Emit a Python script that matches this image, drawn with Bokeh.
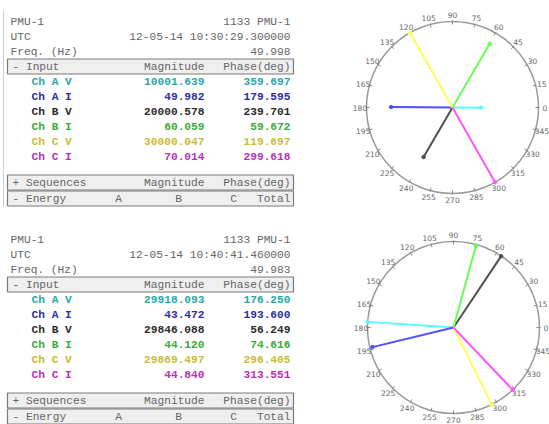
import numpy as np
from bokeh.plotting import figure
from bokeh.models import Range1d, ColumnDataSource
from bokeh.core.properties import value
from bokeh.embed import file_html
from bokeh.resources import INLINE

# ---- phasor snapshot data -------------------------------------------------
device = "PMU-1"
device_id = "1133 PMU-1"
channels = ["Ch A V", "Ch A I", "Ch B V", "Ch B I", "Ch C V", "Ch C I"]
is_voltage = [True, False, True, False, True, False]

utc_1 = "12-05-14 10:30:29.300000"
freq_1 = 49.998
mag_1 = [10001.639, 49.982, 20000.578, 60.059, 30000.047, 70.014]
phase_1 = [359.697, 179.595, 239.701, 59.672, 119.697, 299.618]

utc_2 = "12-05-14 10:40:41.460000"
freq_2 = 49.983
mag_2 = [29918.093, 43.472, 29846.088, 44.120, 29869.497, 44.840]
phase_2 = [176.250, 193.600, 56.249, 74.616, 296.405, 313.551]

angle_ticks = list(range(0, 360, 15))
energy_cols = ["A", "B", "C", "Total"]

# ---- styling ---------------------------------------------------------------
text_colors = ["#27a9a9", "#2f2fa0", "#2b2b2b", "#3bab3b", "#c9bc2e", "#b533b5"]
vector_colors = ["#55ffff", "#5050ff", "#505050", "#66ff55", "#ffff55", "#ff55ff"]
MONO = value("Liberation Mono")
SANS = value("DejaVu Sans")
GREY = "#666666"

W, H = 549, 424
p = figure(width=W, height=H, x_range=Range1d(0, W), y_range=Range1d(H, 0),
           output_backend="svg", toolbar_location=None, min_border=0,
           x_axis_location=None, y_axis_location=None)
p.grid.visible = False
p.outline_line_color = None
p.background_fill_color = "white"
p.border_fill_color = "white"

X_L, X_LABEL, X_MAG, X_PH = 10, 31, 204, 290
ROW = 15.0
FS = "11.2px"


def txt(x, y, s, align="left", color=GREY, bold=False):
    p.text(x=[x], y=[y], text=[s], text_font=MONO, text_font_size=FS,
           text_color=color, text_align=align, text_baseline="middle",
           text_font_style="bold" if bold else "normal")


def header_box(y):
    p.quad(left=[7], right=[293], top=[y - 7.5], bottom=[y + 7.5],
           fill_color="#efefef", line_color="#7a7a7a", line_width=1.2)


def draw_table(y0, utc, freq, mags, phases):
    txt(X_L, y0, device)
    txt(X_PH, y0, device_id, "right")
    txt(X_L, y0 + ROW, "UTC")
    txt(X_PH, y0 + ROW, utc, "right")
    txt(X_L, y0 + 2 * ROW, "Freq. (Hz)")
    txt(X_PH, y0 + 2 * ROW, f"{freq:.3f}", "right")
    yi = y0 + 3 * ROW
    header_box(yi)
    txt(12, yi, "- Input")
    txt(X_MAG, yi, "Magnitude", "right")
    txt(X_PH, yi, "Phase(deg)", "right")
    ys = [yi + ROW * (k + 1) for k in range(len(channels))]
    src = ColumnDataSource(dict(y=ys, name=channels,
                                mag=[f"{m:.3f}" for m in mags],
                                ph=[f"{a:.3f}" for a in phases],
                                c=text_colors))
    for field, x, al in (("name", X_LABEL, "left"), ("mag", X_MAG, "right"),
                         ("ph", X_PH, "right")):
        p.text(x=x, y="y", text=field, source=src, text_font=MONO,
               text_font_size=FS, text_color="c", text_align=al,
               text_baseline="middle", text_font_style="bold")
    ys_seq = ys[-1] + 26
    header_box(ys_seq)
    txt(12, ys_seq, "+ Sequences")
    txt(X_MAG, ys_seq, "Magnitude", "right")
    txt(X_PH, ys_seq, "Phase(deg)", "right")
    ye = ys_seq + 16
    header_box(ye)
    txt(12, ye, "- Energy")
    for lab, x in zip(energy_cols, (118, 178, 233, X_PH)):
        txt(x, ye, lab, "center" if lab != "Total" else "right")


def draw_polar(cx, cy, mags, phases, R=86):
    p.circle(x=[cx], y=[cy], radius=R, fill_color=None, line_color="#9a9a9a",
             line_width=1.5)
    a = np.radians(angle_ticks)
    p.segment(x0=cx + (R - 3) * np.cos(a), y0=cy - (R - 3) * np.sin(a),
              x1=cx + (R + 1) * np.cos(a), y1=cy - (R + 1) * np.sin(a),
              line_color="#8a8a8a", line_width=1)
    p.text(x=cx + (R + 6.5) * np.cos(a), y=cy - (R + 6.5) * np.sin(a),
           text=[str(t) for t in angle_ticks], text_font=SANS,
           text_font_size="7.5px", text_color=GREY, text_align="center",
           text_baseline="middle")
    vmax = max(m for m, v in zip(mags, is_voltage) if v)
    imax = max(m for m, v in zip(mags, is_voltage) if not v)
    r = np.array([R * m / (vmax if v else imax) for m, v in zip(mags, is_voltage)])
    th = np.radians(phases)
    xe, ye = cx + r * np.cos(th), cy - r * np.sin(th)
    p.segment(x0=[cx] * len(r), y0=[cy] * len(r), x1=xe, y1=ye,
              line_color=vector_colors, line_width=2)
    p.scatter(x=xe, y=ye, size=3.5, fill_color=vector_colors,
              line_color=vector_colors)


# left rule beside the first table
p.segment(x0=[3], y0=[10], x1=[3], y1=[207], line_color="#cfcfcf", line_width=1)

draw_table(21, utc_1, freq_1, mag_1, phase_1)
draw_table(239, utc_2, freq_2, mag_2, phase_2)
draw_polar(452, 107, mag_1, phase_1)
draw_polar(453, 327, mag_2, phase_2)

open("out.html", "w").write(file_html(p, INLINE))
